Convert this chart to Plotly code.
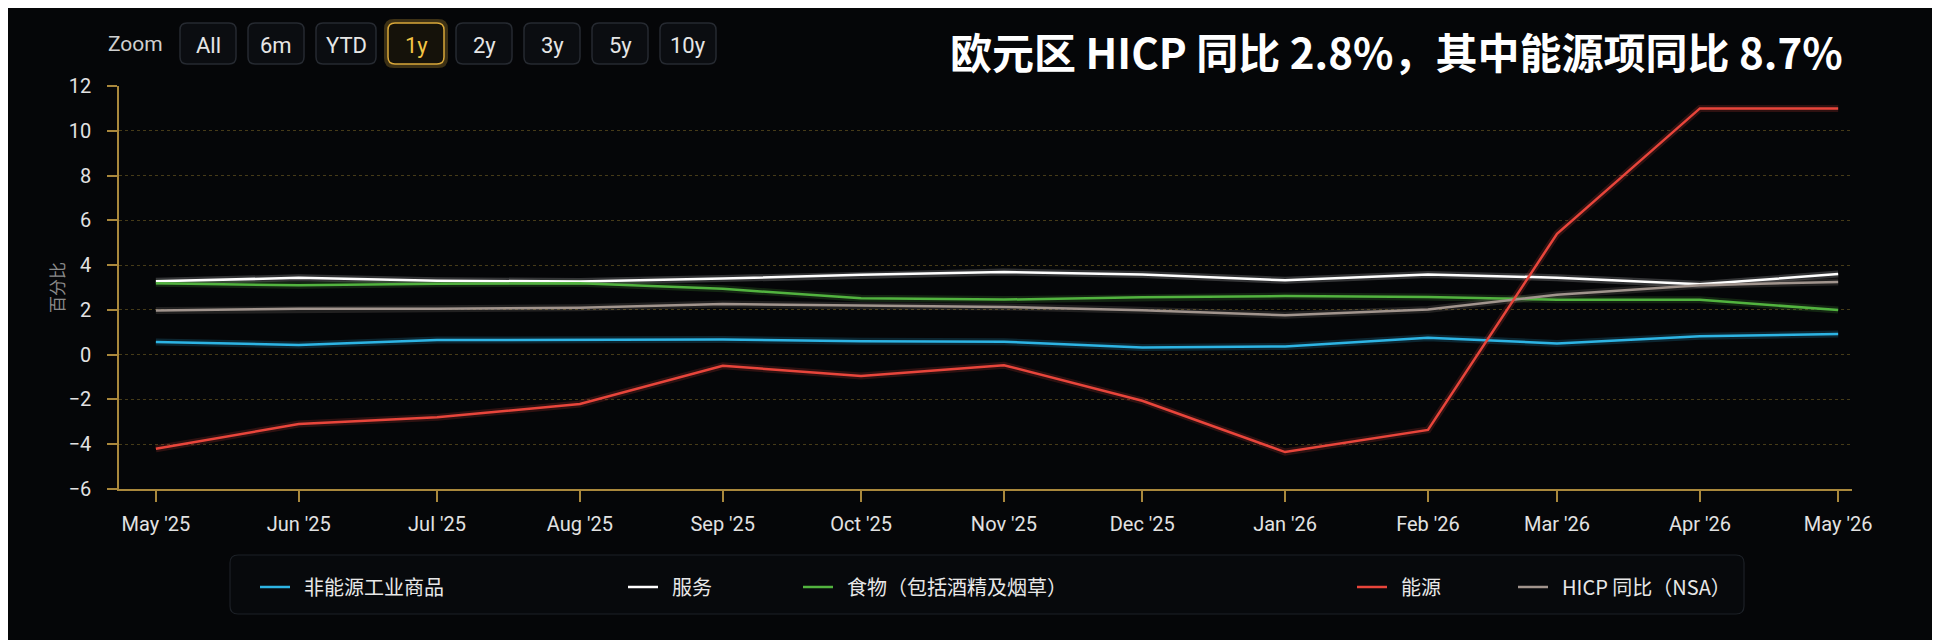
import plotly.graph_objects as go

# Monthly data, percent year on year
months = ["2025-05-01", "2025-06-01", "2025-07-01", "2025-08-01", "2025-09-01", "2025-10-01",
          "2025-11-01", "2025-12-01", "2026-01-01", "2026-02-01", "2026-03-01", "2026-04-01",
          "2026-05-01"]
non_energy_goods = [0.57, 0.43, 0.65, 0.66, 0.68, 0.60, 0.58, 0.32, 0.37, 0.76, 0.50, 0.82, 0.92]
services = [3.28, 3.43, 3.30, 3.27, 3.40, 3.57, 3.69, 3.58, 3.32, 3.58, 3.44, 3.14, 3.60]
food = [3.19, 3.10, 3.17, 3.19, 2.94, 2.52, 2.46, 2.56, 2.62, 2.58, 2.45, 2.45, 1.99]
energy = [-4.20, -3.10, -2.80, -2.20, -0.50, -0.95, -0.47, -2.06, -4.35, -3.36, 5.40, 11.00, 11.00]
hicp = [1.97, 2.05, 2.05, 2.09, 2.26, 2.19, 2.13, 1.98, 1.76, 2.02, 2.68, 3.10, 3.25]

series_names = ["非能源工业商品", "服务", "食物（包括酒精及烟草）", "能源", "HICP 同比（NSA）"]
series_values = [non_energy_goods, services, food, energy, hicp]
series_colors = ["#2db4e4", "#ffffff", "#52b33f", "#e8453b", "#a1948d"]

zoom_buttons = ["All", "6m", "YTD", "1y", "2y", "3y", "5y", "10y"]
active_button = "1y"
title_text = "欧元区 HICP 同比 2.8%，其中能源项同比 8.7%"

# page geometry (pixels); the page body adds an 8px offset
OFF = 8
W, H = 1940, 640
ML, MR, MT, MB = 119 - OFF, 96, 86 - OFF, 159
PW, PH = W - ML - MR, H - MT - MB


def px_x(x):
    # x given in screenshot pixels
    return (x - OFF - ML) / PW


def px_y(y):
    return (H - MB - (y - OFF)) / PH


def rounded_rect(x0, y0, x1, y1, r):
    pts = [
        ("M", [(x0 + r, y0)]), ("L", [(x1 - r, y0)]), ("Q", [(x1, y0), (x1, y0 + r)]),
        ("L", [(x1, y1 - r)]), ("Q", [(x1, y1), (x1 - r, y1)]), ("L", [(x0 + r, y1)]),
        ("Q", [(x0, y1), (x0, y1 - r)]), ("L", [(x0, y0 + r)]), ("Q", [(x0, y0), (x0 + r, y0)]),
    ]
    out = ""
    for cmd, coords in pts:
        out += cmd + " ".join(f"{px_x(a):.5f},{px_y(b):.5f}" for a, b in coords) + " "
    return out + "Z"


fig = go.Figure()

# soft glow under each line
for vals, col in zip(series_values, series_colors):
    fig.add_trace(go.Scatter(
        x=months, y=vals, mode="lines",
        line=dict(color=col, width=7),
        opacity=0.18, hoverinfo="skip", showlegend=False,
    ))

draw_order = [0, 1, 2, 4, 3]
for i in draw_order:
    fig.add_trace(go.Scatter(
        x=months, y=series_values[i], mode="lines",
        name="\u00a0\u00a0" + series_names[i],  # a little more room after the line sample
        line=dict(color=series_colors[i], width=2.5),
        legend="legend" if i == 0 else f"legend{i + 1}",
    ))

# legend line samples start here (screenshot pixels)
legend_x = [260, 628, 803, 1357, 1518]
legend_cfg = {}
for i, lx in enumerate(legend_x):
    key = "legend" if i == 0 else f"legend{i + 1}"
    legend_cfg[key] = dict(
        x=px_x(lx - 5), y=px_y(587), xanchor="left", yanchor="middle",
        bgcolor="rgba(0,0,0,0)", borderwidth=0,
        font=dict(size=20, color="#e8e8e8", family="Noto Sans CJK SC"),
        itemwidth=30, itemclick=False,
    )

shapes = [dict(
    type="path", xref="paper", yref="paper",
    path=rounded_rect(230, 555, 1744, 614, 8),
    line=dict(color="#1d2127", width=1.2), fillcolor="#07090c", layer="below",
)]

annotations = [
    dict(text=title_text, xref="paper", yref="paper", x=px_x(1845), y=px_y(51),
         xanchor="right", yanchor="middle", showarrow=False,
         font=dict(size=42, color="#ffffff", family="Noto Sans CJK SC", weight="bold")),
    dict(text="Zoom", xref="paper", yref="paper", x=px_x(106), y=px_y(44),
         xanchor="left", yanchor="middle", showarrow=False,
         font=dict(size=21, color="#d0d0d0", family="Roboto")),
]

# zoom buttons
bx = 180
for b in zoom_buttons:
    bw = 60 if b == "YTD" else 56
    active = b == active_button
    if active:
        shapes.append(dict(
            type="path", xref="paper", yref="paper",
            path=rounded_rect(bx - 2, 21, bx + bw + 2, 66, 8),
            line=dict(color="rgba(230,180,60,0.25)", width=4), fillcolor="rgba(0,0,0,0)",
        ))
    shapes.append(dict(
        type="path", xref="paper", yref="paper",
        path=rounded_rect(bx, 23, bx + bw, 64, 7),
        line=dict(color="#d9a83a" if active else "#262a31", width=1.5),
        fillcolor="#15120a" if active else "#0b0d11",
    ))
    annotations.append(dict(
        text=b, xref="paper", yref="paper", x=px_x(bx + bw / 2), y=px_y(45),
        xanchor="center", yanchor="middle", showarrow=False,
        font=dict(size=22, color="#f3c545" if active else "#e6e6e6", family="Roboto"),
    ))
    bx += bw + 12

axis_gold = "#a9883c"
fig.update_layout(
    width=W, height=H,
    margin=dict(l=ML, r=MR, t=MT, b=MB),
    paper_bgcolor="#050608",
    plot_bgcolor="#050608",
    font=dict(family="Roboto, Noto Sans CJK SC", color="#e0e0e0"),
    shapes=shapes,
    annotations=annotations,
    hovermode="x unified",
    **legend_cfg,
)

fig.update_xaxes(
    type="date",
    range=["2025-04-23", "2026-05-04"],
    tickvals=months,
    tickformat="%b '%y",
    showgrid=False,
    showline=True, linecolor=axis_gold, linewidth=1.5,
    ticks="outside", ticklen=11, tickcolor=axis_gold, tickwidth=1.5,
    ticklabelstandoff=5,
    tickfont=dict(size=20, color="#e2e2e2", family="Roboto"),
    zeroline=False,
)
fig.update_yaxes(
    range=[-6, 12], dtick=2, tick0=0,
    showgrid=True, gridcolor="rgba(150,125,45,0.45)", griddash="dot", gridwidth=1,
    showline=True, linecolor=axis_gold, linewidth=1.5,
    ticks="outside", ticklen=10, tickcolor=axis_gold, tickwidth=1.5,
    ticklabelstandoff=12,
    tickfont=dict(size=20, color="#e2e2e2", family="Roboto"),
    zeroline=False,
    title=dict(text="百分比", standoff=0,
               font=dict(size=17, color="#8a8a8a", family="Noto Sans CJK SC")),
)

fig.write_html("out.html")
